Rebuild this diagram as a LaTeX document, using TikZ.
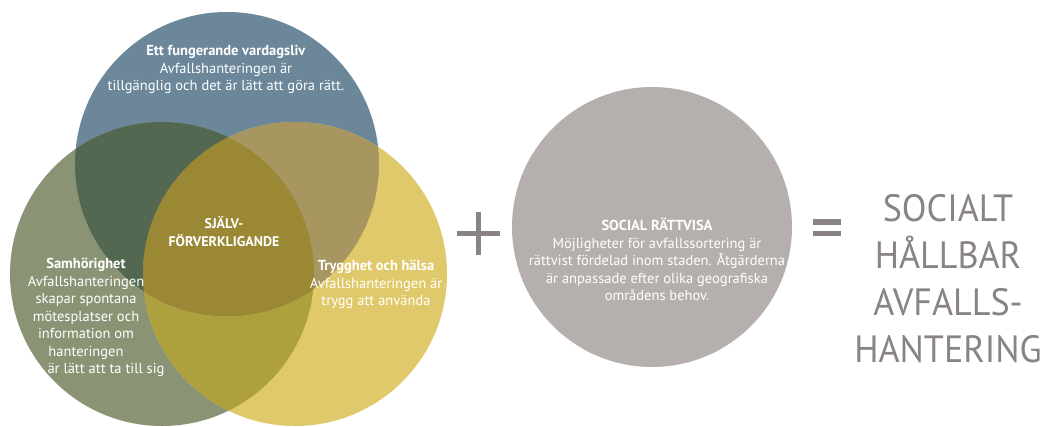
\documentclass[tikz,border=0pt]{standalone}
\usepackage{fontspec}
\setmainfont{PT Sans}
\newfontfamily\storfont[FakeStretch=0.95]{PT Sans}
\definecolor{bla}{HTML}{6B8799}
\definecolor{gron}{HTML}{8A9475}
\definecolor{gul}{HTML}{E0C96A}
\definecolor{blagron}{HTML}{536851}
\definecolor{blagul}{HTML}{A89660}
\definecolor{grongul}{HTML}{AFA03E}
\definecolor{mitt}{HTML}{9A8835}
\definecolor{gra}{HTML}{B5B0AD}
\definecolor{tecken}{HTML}{898384}

\begin{document}
\begin{tikzpicture}[x=1pt, y=-1pt]
\tikzset{vittext/.style={text=white, align=center, inner sep=0pt, font=\fontsize{14.5}{17.5}\selectfont}}
\tikzset{stortext/.style={text=tecken, align=center, inner sep=0pt, font=\storfont\fontsize{38}{47}\selectfont}}
\clip (0, 0) rectangle (1051, 426);
\fill[white] (0, 0) rectangle (1051, 426);
\fill[bla] (227, 164) circle (152pt);
\fill[gron] (162, 274) circle (152pt);
\fill[gul] (295, 274) circle (152pt);
\begin{scope}
\clip (162, 274) circle (152pt);
\fill[grongul] (295, 274) circle (152pt);
\end{scope}
\begin{scope}
\clip (227, 164) circle (152pt);
\fill[blagron] (162, 274) circle (152pt);
\fill[blagul] (295, 274) circle (152pt);
\clip (162, 274) circle (152pt);
\fill[mitt] (295, 274) circle (152pt);
\end{scope}
\fill[gra] (652, 227) circle (140pt);
\draw[tecken, line width=5pt] (457, 233) -- (500, 233);
\draw[tecken, line width=5pt] (478, 212) -- (478, 255);
\fill[tecken] (813, 219) rectangle (841, 225);
\fill[tecken] (813, 231) rectangle (841, 236);
\node[vittext] (vardag) at (226, 69.5) {\textbf{Ett fungerande vardagsliv}\\Avfallshanteringen är\\tillgänglig och det är lätt att göra rätt.};
\node[vittext, font=\bfseries\fontsize{14}{17.5}\selectfont] (sjalv) at (224, 231.5) {SJÄLV-\\FÖRVERKLIGANDE};
\node[vittext] (samhor) at (86, 317.5) {\textbf{Samhörighet}\\Avfallshanteringen\\skapar spontana\\mötesplatser och\\information om\\hanteringen\\\hspace*{40pt}är lätt att ta till sig};
\node[vittext] (trygg) at (376, 284.5) {\textbf{Trygghet och hälsa}\\Avfallshanteringen är\\trygg att använda};
\node[vittext] (social) at (657, 259.5) {\textbf{SOCIAL RÄTTVISA}\\Möjligheter för avfallssortering är\\rättvist fördelad inom staden. Åtgärderna\\är anpassade efter olika geografiska\\områdens behov.};
\node[stortext] (summa) at (948, 278.5) {SOCIALT\\HÅLLBAR\\AVFALLS-\\HANTERING};
\end{tikzpicture}
\end{document}
